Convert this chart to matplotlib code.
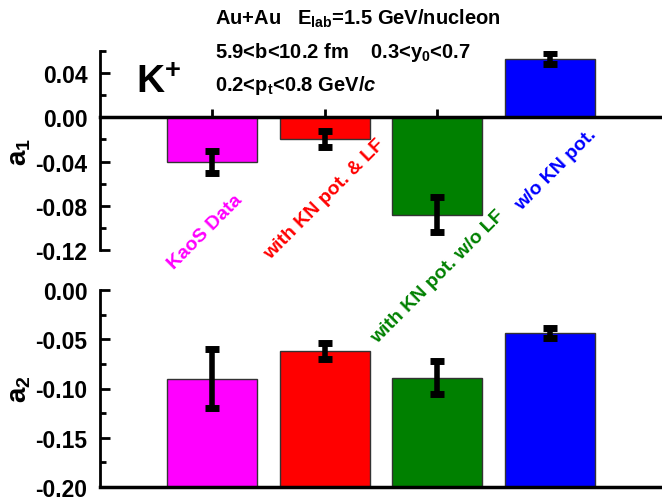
import matplotlib
matplotlib.use("Agg")
import matplotlib.pyplot as plt
from matplotlib.ticker import MultipleLocator, FormatStrFormatter

plt.rcParams['font.family'] = 'Liberation Sans'
plt.rcParams['font.weight'] = 'bold'
plt.rcParams['mathtext.fontset'] = 'custom'
plt.rcParams['mathtext.rm'] = 'Liberation Sans:bold'
plt.rcParams['mathtext.bf'] = 'Liberation Sans:bold'
plt.rcParams['mathtext.it'] = 'Liberation Sans:italic:bold'
plt.rcParams['mathtext.default'] = 'bf'

# Datos
etiquetas = ["KaoS Data", "with KN pot. & LF", "with KN pot. w/o LF", "w/o KN pot."]
colores = ["#FF00FF", "#FF0000", "#008000", "#0000FF"]
posiciones = [1, 2, 3, 4]
a1 = [-0.040, -0.0195, -0.088, 0.053]
a1_err = [0.010, 0.0075, 0.016, 0.0048]
a2 = [-0.090, -0.062, -0.089, -0.044]
a2_err = [0.030, 0.008, 0.017, 0.005]

W, H = 662, 502
fig = plt.figure(figsize=(W / 100, H / 100), dpi=100)

def caja(x0, y0, x1, y1):
    # pixeles -> fraccion de figura
    return [x0 / W, 1 - y1 / H, (x1 - x0) / W, (y1 - y0) / H]

ax1 = fig.add_axes(caja(100, 52, 662, 251))
ax2 = fig.add_axes(caja(100, 291, 662, 488))

for ax, vals, errs in [(ax1, a1, a1_err), (ax2, a2, a2_err)]:
    base = 0 if ax is ax1 else -0.2
    alturas = [v - base for v in vals]
    ax.bar(posiciones, alturas, bottom=base, width=0.8, color=colores,
           edgecolor="#333333", linewidth=1.0, zorder=2)
    ax.errorbar(posiciones, vals, yerr=errs, fmt='none', ecolor='black',
                elinewidth=4, capsize=5, capthick=5, zorder=3)
    ax.set_xlim(0, 5)
    ax.spines['top'].set_visible(False)
    ax.spines['right'].set_visible(False)
    ax.spines['left'].set_linewidth(2)
    ax.spines['bottom'].set_linewidth(2.5)
    ax.set_xticks(posiciones)
    ax.set_xticklabels([])
    ax.tick_params(axis='x', direction='in', length=6, width=2)
    ax.tick_params(axis='y', which='major', direction='in', length=7, width=2,
                   labelsize=16.5, pad=9)
    ax.tick_params(axis='y', which='minor', direction='in', length=4, width=2)

ax1.set_ylim(-0.12, 0.06)
ax1.spines['bottom'].set_position(('data', 0))
ax1.yaxis.set_minor_locator(MultipleLocator(0.02))
ax1.set_yticks([-0.12, -0.08, -0.04, 0.0, 0.04])
ax1.yaxis.set_major_formatter(FormatStrFormatter('%.2f'))

ax2.set_ylim(-0.2, 0.0)
ax2.yaxis.set_major_locator(MultipleLocator(0.05))
ax2.yaxis.set_minor_locator(MultipleLocator(0.025))
ax2.yaxis.set_major_formatter(FormatStrFormatter('%.2f'))

for ax in (ax1, ax2):
    for t in ax.get_yticklabels():
        t.set_fontweight('bold')

ax1.set_ylabel("a$_1$", fontsize=20, fontweight='bold')
ax1.yaxis.set_label_coords(-0.12, 0.5)
ax2.set_ylabel("a$_2$", fontsize=20, fontweight='bold')
ax2.yaxis.set_label_coords(-0.12, 0.5)

# Etiquetas rotadas
centros = [(205, 232), (324, 200), (438, 277), (556, 170)]
for (cx, cy), txt, col in zip(centros, etiquetas, colores):
    fig.text(cx / W, 1 - cy / H, txt, color=col, fontsize=14, fontweight='bold',
             rotation=45, ha='center', va='center', rotation_mode='anchor')

# Textos
fig.text(215 / W, 1 - 25 / H, "Au+Au   E$_{lab}$=1.5 GeV/nucleon", fontsize=14.5,
         fontweight='bold', va='baseline')
fig.text(215 / W, 1 - 58 / H, "5.9<b<10.2 fm    0.3<y$_0$<0.7", fontsize=14.5,
         fontweight='bold', va='baseline')
fig.text(215 / W, 1 - 91 / H, "0.2<p$_t$<0.8 GeV/$\\mathit{c}$", fontsize=14.5,
         fontweight='bold', va='baseline')
fig.text(136 / W, 1 - 93 / H, "K$^{+}$", fontsize=28, fontweight='bold', va='baseline')

fig.savefig("out.png", dpi=100)
